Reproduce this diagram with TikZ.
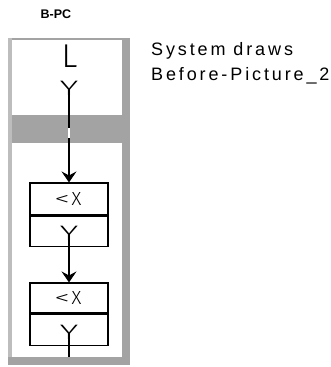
\documentclass[tikz,border=0pt]{standalone}
\usepackage{fontspec}
\setmainfont{Liberation Sans}
\newfontfamily\spacedfont[LetterSpace=16]{Liberation Sans}
\newfontfamily\thinfont{Fira Sans Light}
\usetikzlibrary{positioning, arrows.meta}

\begin{document}
\begin{tikzpicture}[x=1pt, y=-1pt,
  every node/.style={inner sep=0pt},
  part/.style={rectangle, draw, line width=1.1pt, minimum width=78pt},
  cond/.style={part, minimum height=32pt, font=\thinfont\fontsize{19}{19}\selectfont},
  body/.style={part, minimum height=30pt},
  fork/.style={font=\thinfont\fontsize{22}{22}\selectfont},
  flow/.style={-{Stealth[length=11pt, width=15pt, inset=4pt]}, line width=1.1pt},
  wire/.style={line width=1.1pt},
]
\useasboundingbox (0,0) rectangle (331,367);
% frame of the picture
\fill[black!36] (8,38) rectangle (130,365);
\fill[black!26] (8,38) rectangle (12,357);
\fill[white] (12,39.5) rectangle (122,357);
\fill[black!36] (12,115) rectangle (122,143);

\node[font=\bfseries\fontsize{12.5}{12.5}\selectfont] (title) at (56,14) {B-PC};
\node[anchor=north west, align=left, font=\spacedfont\fontsize{18}{25}\selectfont] (caption) at (151,42) {System draws\\Before-Picture\_2};

\node[font=\thinfont\fontsize{33}{33}\selectfont] (lab) at (69.5,56.5) {L};
\node[fork] (y0) at (69,88) {\scalebox{1.6}[0.95]{Y}};
\node[cond] (c1) at (69,199) {\hspace{-2pt}\scalebox{1.6}[1]{<}\hspace{2pt}X};
\node[body, below=0pt of c1] (d1) {};
\node[fork] (y1) at (69,233) {\scalebox{1.6}[0.95]{Y}};
\node[cond, minimum height=30pt] (c2) at (69,298) {\hspace{-2pt}\scalebox{1.6}[1]{<}\hspace{2pt}X};
\node[body, below=0pt of c2, minimum height=31pt] (d2) {};
\node[fork] (y2) at (69,332) {\scalebox{1.6}[0.95]{Y}};
\coordinate (tail) at (69,357);

\draw[flow] (y0.south) -- (c1.north);
\node[fill=white, minimum width=2.5pt, minimum height=10pt] (gap) at (69,133) {};
\draw[flow] (y1.south) -- (c2.north);
\draw[wire] (y2.south) -- (tail);
\end{tikzpicture}
\end{document}
